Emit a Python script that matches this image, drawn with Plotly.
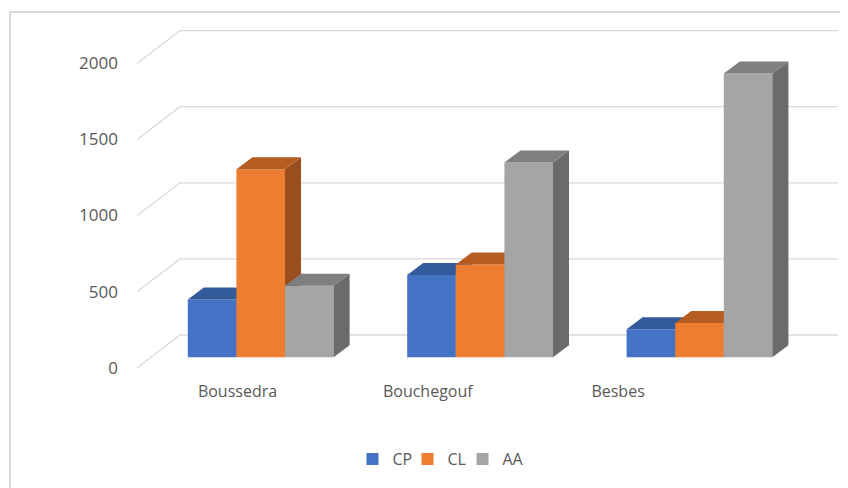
import plotly.graph_objects as go

# ---------------- data ----------------
categories = ["Boussedra", "Bouchegouf", "Besbes"]
series_names = ["CP", "CL", "AA"]
cp_values = [380, 540, 185]
cl_values = [1235, 610, 225]
aa_values = [470, 1280, 1865]
y_ticks = [0, 500, 1000, 1500, 2000]

series_values = [cp_values, cl_values, aa_values]
front_colors = ["#4472C4", "#ED7D31", "#A5A5A5"]
top_colors = ["#335A9A", "#B65E22", "#7F7F7F"]
side_colors = ["#2C4F88", "#9A4E1D", "#6B6B6B"]

# ---------------- layout geometry (window pixels) ----------------
OFF = 8  # page body margin in the browser
W, H = 848 - OFF, 488 - OFF


def px(v):
    return v - OFF


L, R, T, B = px(125), px(846), px(16), px(372)

GROUP0_PX = px(260.7)     # centre of first bar group
CAT_PX = 219.4            # distance between groups
BAR_PX = 48.6             # width of one bar
VAL_PX = 0.1522           # pixels per value unit
BAR_BASE_PX = px(357.3)   # bar base (front)
FRONT_BASE_PX = px(367.7) # zero of the front plane (tick labels)
DEPTH_DX, DEPTH_DY = 42.7, 32.7   # floor depth offset
BAR_DX, BAR_DY = 16.0, 12.0       # bar depth offset
GRID_X0, GRID_X1 = px(137.3), px(838.0)
LABEL0_PX, LABEL_STEP = px(237.5), 190.3

bw = BAR_PX / CAT_PX
ddx = BAR_DX / CAT_PX
ddy = BAR_DY / VAL_PX

fig = go.Figure()

# back-wall gridlines with their perspective diagonals (base subplot)
gx, gy = [], []
xf = (GRID_X0 - LABEL0_PX) / LABEL_STEP
xb = (GRID_X0 + DEPTH_DX - LABEL0_PX) / LABEL_STEP
xr = (GRID_X1 - LABEL0_PX) / LABEL_STEP
for v in y_ticks:
    vb = v + DEPTH_DY / VAL_PX
    gx += [xf, xb, xr, None]
    gy += [v, vb, vb, None]
fig.add_trace(go.Scatter(x=gx, y=gy, mode="lines", line=dict(color="#D9D9D9", width=1.3),
                         showlegend=False, hoverinfo="skip", xaxis="x", yaxis="y"))

yaxes = ["y2", "y3", "y4"]
legend_widths = [10, 10, 26]
for j, (name, vals) in enumerate(zip(series_names, series_values)):
    off = (j - 1) * bw
    xs = [i + off for i in range(len(categories))]
    ya = yaxes[j]
    fig.add_trace(go.Bar(x=xs, y=vals, width=bw, name=name,
                         marker=dict(color=front_colors[j], line=dict(width=0)),
                         legendwidth=legend_widths[j],
                         xaxis="x2", yaxis=ya))
    tx, ty, sx, sy = [], [], [], []
    for x, v in zip(xs, vals):
        x0, x1 = x - bw / 2, x + bw / 2
        tx += [x0, x1, x1 + ddx, x0 + ddx, x0, None]
        ty += [v, v, v + ddy, v + ddy, v, None]
        sx += [x1, x1 + ddx, x1 + ddx, x1, x1, None]
        sy += [0, ddy, v + ddy, v, 0, None]
    fig.add_trace(go.Scatter(x=sx, y=sy, mode="lines", fill="toself", fillcolor=side_colors[j],
                             line=dict(width=0, color=side_colors[j]), showlegend=False,
                             hoverinfo="skip", xaxis="x2", yaxis=ya))
    fig.add_trace(go.Scatter(x=tx, y=ty, mode="lines", fill="toself", fillcolor=top_colors[j],
                             line=dict(width=0, color=top_colors[j]), showlegend=False,
                             hoverinfo="skip", xaxis="x2", yaxis=ya))

bar_yrange = [(BAR_BASE_PX - B) / VAL_PX, (BAR_BASE_PX - T) / VAL_PX]
front_yrange = [(FRONT_BASE_PX - B) / VAL_PX, (FRONT_BASE_PX - T) / VAL_PX]

hidden = dict(visible=False, fixedrange=True)

fig.update_layout(
    width=W, height=H,
    margin=dict(l=L, r=W - R, t=T, b=H - B, pad=0),
    paper_bgcolor="white", plot_bgcolor="rgba(0,0,0,0)",
    barmode="overlay",
    font=dict(family="Open Sans", color="#595959", size=16),
    xaxis=dict(range=[(L - LABEL0_PX) / LABEL_STEP, (R - LABEL0_PX) / LABEL_STEP],
               tickmode="array", tickvals=list(range(len(categories))), ticktext=categories,
               showgrid=False, zeroline=False, showline=False, ticks="",
               tickfont=dict(size=16, color="#595959"), ticklabelstandoff=8),
    yaxis=dict(range=front_yrange, tickmode="array", tickvals=y_ticks,
               showgrid=False, zeroline=False, showline=False, ticks="",
               tickfont=dict(size=17, color="#595959"), ticklabelstandoff=6),
    xaxis2=dict(range=[(L - GROUP0_PX) / CAT_PX, (R - GROUP0_PX) / CAT_PX],
                overlaying="x", **hidden),
    yaxis2=dict(range=bar_yrange, overlaying="y", **hidden),
    yaxis3=dict(range=bar_yrange, overlaying="y", **hidden),
    yaxis4=dict(range=bar_yrange, overlaying="y", **hidden),
    legend=dict(orientation="h", xanchor="center", yanchor="middle",
                x=(px(443) - L) / (R - L), y=(B - px(459)) / (B - T),
                entrywidthmode="pixels",
                font=dict(size=16, color="#595959"), bgcolor="rgba(0,0,0,0)"),
    shapes=[dict(type="rect", xref="paper", yref="paper",
                 x0=(px(10) - L) / (R - L), x1=(px(870) - L) / (R - L),
                 y0=(B - px(12)) / (B - T), y1=(B - px(510)) / (B - T),
                 line=dict(color="#D9D9D9", width=2), fillcolor="rgba(0,0,0,0)", layer="below")],
)

fig.write_html("out.html")
